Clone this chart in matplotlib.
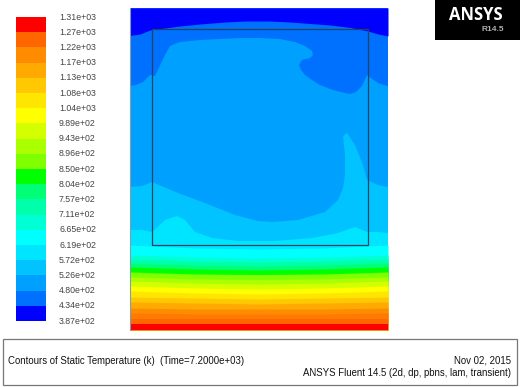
import matplotlib
matplotlib.use('Agg')
import matplotlib.pyplot as plt
from matplotlib.patches import Rectangle

plt.rcParams['font.family'] = ['Liberation Sans', 'DejaVu Sans']

# contour levels, top to bottom
levels = ['1.31e+03', '1.27e+03', '1.22e+03', '1.17e+03', '1.13e+03', '1.08e+03',
          '1.04e+03', '9.89e+02', '9.43e+02', '8.96e+02', '8.50e+02', '8.04e+02',
          '7.57e+02', '7.11e+02', '6.65e+02', '6.19e+02', '5.72e+02', '5.26e+02',
          '4.80e+02', '4.34e+02', '3.87e+02']
band_colors = ['#ff0000', '#ff6600', '#ff8c00', '#ffaa00', '#ffc800', '#ffe600',
               '#ffff00', '#d4ff00', '#aaff00', '#7fff00', '#00ff00', '#00ff77',
               '#00ffaa', '#00ffd4', '#00ffff', '#00e5ff', '#00c3ff', '#00a0ff',
               '#0070ff', '#0000ff']

# outlines of the contour regions, in picture coordinates
top_x = [130, 140, 150, 165, 180, 200, 225, 245, 270, 290, 310, 330, 350, 368, 378, 388]
top_y = [35.5, 34, 30, 28, 26, 24, 22, 21, 21, 22, 23.5, 25, 27.5, 31, 34, 36]

blue2_x = [130, 136, 143, 150, 155, 158, 161, 165, 170, 180, 200, 220, 240, 260, 280,
           295, 305, 312, 313, 310, 302, 299, 301, 305, 312, 320, 333, 345, 350, 356,
           362, 367, 372, 380, 388]
blue2_y = [86, 85, 82, 75, 76, 70, 63, 55, 46, 42, 40, 39, 38, 38, 39,
           42, 46, 51, 55, 58, 60, 65, 70, 75, 80, 85, 90, 93, 94, 92,
           86, 75, 79, 84, 86]

light_x = [130, 142, 152, 178, 205, 235, 258, 272, 298, 325, 338, 343, 345, 345, 343,
           345, 347, 355, 363, 367, 378, 388]
light_y = [187, 186, 182, 193, 203, 215, 221, 222, 220, 212, 200, 188, 175, 155, 137,
           134, 133, 145, 165, 180, 185, 187]

cyan_x = [130, 142, 152, 165, 177, 185, 195, 212, 238, 275, 312, 338, 355, 367, 378, 388]
cyan_y = [230, 230, 232, 220, 216, 220, 232, 238, 241, 241, 238, 233, 227, 232, 232, 233]

# horizontal bands near the bottom, edge to centre to edge
band_x = [130, 195, 259, 324, 388]
band_y = [[245, 248, 249, 248, 245],
          [255, 257, 258, 257, 255],
          [259, 261, 262, 261, 259],
          [263, 265, 266, 265, 263],
          [267, 269, 270, 269, 267],
          [272, 274, 274.5, 274, 272],
          [277, 279, 279.5, 279, 277],
          [281, 283, 284, 283, 281],
          [286, 288, 289, 288, 286],
          [291, 293, 294, 293, 291],
          [297, 298, 299, 298, 297],
          [302, 303, 304, 303, 302],
          [308, 309, 309, 309, 308],
          [313, 314, 314, 314, 313],
          [319, 319, 319, 319, 319],
          [324, 324, 324, 324, 324]]
band_cols = ['#00ffff', '#00ffd4', '#00ffaa', '#00ff77', '#00ff00', '#7fff00', '#aaff00',
             '#d4ff00', '#ffff00', '#ffe600', '#ffc800', '#ffaa00', '#ff8c00', '#ff7a00',
             '#ff6600', '#ff0000']

fig = plt.figure(figsize=(5.2, 3.87), dpi=100)
ax = fig.add_axes([0, 0, 1, 1])
ax.set_xlim(0, 520)
ax.set_ylim(387, 0)
ax.axis('off')

# colour bar
for i, c in enumerate(band_colors):
    ax.add_patch(Rectangle((16, 17 + i * 15.2), 29.5, 15.3, fc=c, ec='none'))
for i, s in enumerate(levels):
    ax.text(59, 17 + i * 15.2, s, fontsize=6.3, color='#444444', va='center', ha='left')

# contours, painted from the background up
ax.add_patch(Rectangle((130, 8), 258, 322, fc='#00a0ff', ec='none'))
ax.fill(blue2_x + [388, 130], blue2_y + [8, 8], color='#0070ff', lw=0)
ax.fill_between(top_x, 8, top_y, color='#0000ff', lw=0)
ax.fill(light_x + [388, 130], light_y + [330, 330], color='#00c3ff', lw=0)
ax.fill(cyan_x + [388, 130], cyan_y + [330, 330], color='#00e5ff', lw=0)
for y, c in zip(band_y, band_cols):
    ax.fill_between(band_x, y, 330, color=c, lw=0)

ax.plot([130, 130], [8, 330], color='#7f9fb0', lw=0.8)

# inner rectangle
ax.add_patch(Rectangle((151.5, 29), 216, 215.5, fc='none', ec='#22445f', lw=0.9))

# logo
ax.add_patch(Rectangle((435, 0), 85, 40, fc='black', ec='none'))
ax.text(476, 14.5, 'ANSYS', color='white', fontsize=12, fontweight='bold',
        ha='center', va='center', family=['Open Sans', 'DejaVu Sans'])
ax.text(504, 29.5, 'R14.5', color='#b0b0b0', fontsize=6, fontweight='bold', ha='right', va='center')

# caption box
ax.add_patch(Rectangle((2.5, 338.5), 514.5, 46.5, fc='white', ec='#777777', lw=0.9))
ax.text(8, 360.5, 'Contours of Static Temperature (k)  (Time=7.2000e+03)', fontsize=6.9,
        color='#111111', va='center')
ax.text(511, 360.5, 'Nov 02, 2015', fontsize=6.9, color='#111111', va='center', ha='right')
ax.text(511, 372.5, 'ANSYS Fluent 14.5 (2d, dp, pbns, lam, transient)', fontsize=6.9,
        color='#111111', va='center', ha='right')

fig.savefig('out.png', dpi=100)
